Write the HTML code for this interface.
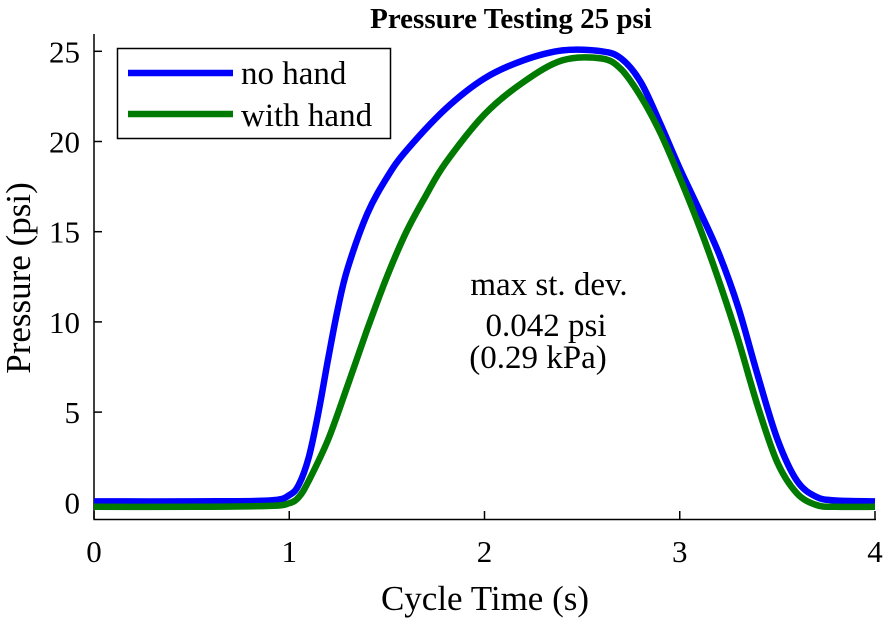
<!DOCTYPE html>
<html><head><meta charset="utf-8"><style>
body{margin:0;background:#fff}
svg{display:block;font-family:"Liberation Serif",serif}
</style></head><body>
<svg id="chart" width="886" height="620" xmlns="http://www.w3.org/2000/svg">
<text x="511" y="28" text-anchor="middle" font-weight="bold" font-size="29">Pressure Testing 25 psi</text>
<g id="axes"></g>
<g id="series"></g>
<text x="549" y="295" text-anchor="middle" font-size="33">max st. dev.</text>
<text x="546" y="336" text-anchor="middle" font-size="33">0.042 psi</text>
<text x="538" y="368" text-anchor="middle" font-size="33">(0.29 kPa)</text>
<text x="485" y="610" text-anchor="middle" font-size="35">Cycle Time (s)</text>
<text transform="translate(30,278) rotate(-90)" text-anchor="middle" font-size="35">Pressure (psi)</text>
<g>
<rect x="117.5" y="48.5" width="273" height="90" fill="#fff" stroke="#000" stroke-width="1.5"/>
<line x1="128" y1="73" x2="233" y2="73" stroke="#0000ff" stroke-width="6.5"/>
<text x="241" y="84" font-size="33">no hand</text>
<line x1="128" y1="114" x2="233" y2="114" stroke="#007a00" stroke-width="6.5"/>
<text x="241" y="126" font-size="33">with hand</text>
</g>
</svg>
<script>
const xTicks=[0,1,2,3,4];
const yTicks=[0,5,10,15,20,25];
const timeNoHand=[0,0.5,0.9,1.0,1.05,1.1,1.15,1.2,1.25,1.3,1.4,1.5,1.6,1.8,2.0,2.2,2.4,2.6,2.7,2.8,2.9,3.0,3.1,3.2,3.3,3.4,3.5,3.6,3.7,3.8,4.0];
const pressureNoHand=[0.05,0.05,0.1,0.4,1.0,2.5,5,8,10.8,13,16,18,19.5,21.8,23.5,24.5,25.05,25,24.6,23.3,21,18.5,16.2,13.8,10.8,7.0,3.5,1.2,0.3,0.1,0.05];
const timeWithHand=[0,0.5,0.9,1.0,1.05,1.1,1.2,1.3,1.4,1.5,1.6,1.7,1.8,2.0,2.2,2.4,2.6,2.7,2.8,2.9,3.0,3.1,3.2,3.3,3.4,3.5,3.6,3.7,3.8,4.0];
const pressureWithHand=[-0.25,-0.25,-0.2,-0.05,0.3,1.2,3.5,6.5,9.6,12.5,15,17,18.8,21.5,23.3,24.5,24.6,24,22.5,20.5,18,15.3,12.3,9,5.3,2.2,0.5,-0.15,-0.25,-0.25];
const sx=t=>94+195.25*t;
const sy=p=>502.3-18.04*p;
const NS="http://www.w3.org/2000/svg";
const axes=document.getElementById('axes');
function mk(tag,attrs,parent){const e=document.createElementNS(NS,tag);for(const k in attrs)e.setAttribute(k,attrs[k]);parent.appendChild(e);return e;}
let a=mk('line',{x1:94,y1:34,x2:94,y2:519.5,stroke:'#000','stroke-width':1.5},axes);


a=mk('line',{x1:93.5,y1:519.5,x2:876,y2:519.5,stroke:'#000','stroke-width':1.5},axes);


xTicks.forEach(v=>{
 const t=mk('line',{x1:sx(v),y1:519.5,x2:sx(v),y2:511,stroke:'#000','stroke-width':1.5},axes);
 
 
 const l=mk('text',{x:sx(v),y:562,'text-anchor':'middle','font-size':31},axes);
 l.textContent=v;
 
 
});
yTicks.forEach(v=>{
 const t=mk('line',{x1:94,y1:sy(v),x2:102,y2:sy(v),stroke:'#000','stroke-width':1.5},axes);
 
 
 const l=mk('text',{x:80,y:sy(v)+11,'text-anchor':'end','font-size':31},axes);
 l.textContent=v;
 
 
});
const series=document.getElementById('series');
function path(ts,ps){
 const P=ts.map((t,i)=>[sx(t),sy(ps[i])]);
 let d='M'+P[0][0].toFixed(1)+','+P[0][1].toFixed(1);
 for(let i=0;i<P.length-1;i++){
  const p0=P[Math.max(0,i-1)],p1=P[i],p2=P[i+1],p3=P[Math.min(P.length-1,i+2)];
  const c1=[p1[0]+(p2[0]-p0[0])/6,p1[1]+(p2[1]-p0[1])/6];
  const c2=[p2[0]-(p3[0]-p1[0])/6,p2[1]-(p3[1]-p1[1])/6];
  d+=' C'+c1.map(v=>v.toFixed(1)).join(',')+' '+c2.map(v=>v.toFixed(1)).join(',')+' '+p2.map(v=>v.toFixed(1)).join(',');
 }
 return d;
}
let s=mk('path',{d:path(timeNoHand,pressureNoHand),fill:'none',stroke:'#0000ff','stroke-width':6.5,'stroke-linejoin':'round'},series);


s=mk('path',{d:path(timeWithHand,pressureWithHand),fill:'none',stroke:'#007a00','stroke-width':6.5,'stroke-linejoin':'round'},series);


</script>
</body></html>
